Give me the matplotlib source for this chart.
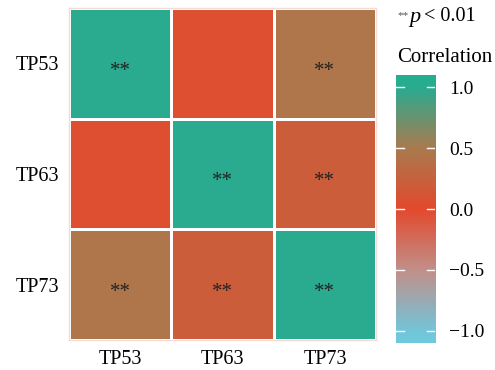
import numpy as np
import matplotlib
matplotlib.use("Agg")
import matplotlib.pyplot as plt
from matplotlib.colors import LinearSegmentedColormap, Normalize

plt.rcParams['font.family'] = ['Liberation Serif', 'DejaVu Serif']

# data
genes = ['TP53', 'TP63', 'TP73']
corr = np.array([
    [1.00, 0.05, 0.45],
    [0.05, 1.00, 0.20],
    [0.45, 0.20, 1.00],
])
stars = [
    ['**', '', '**'],
    ['', '**', '**'],
    ['**', '**', '**'],
]
cbar_ticks = [-1.0, -0.5, 0.0, 0.5, 1.0]

# colour scale (on -1.1 .. 1.1)
cmap = LinearSegmentedColormap.from_list('corr', [
    (0.000, '#6FCADE'),
    (0.045, '#74C4D8'),
    (0.270, '#C1908A'),
    (0.500, '#E3492D'),
    (0.730, '#A97B4F'),
    (0.955, '#2AAB90'),
    (1.000, '#24AF91'),
])
norm = Normalize(vmin=-1.1, vmax=1.1)

fig = plt.figure(figsize=(4.95, 3.70), dpi=100)
ax = fig.add_axes([0.139, 0.081, 0.621, 0.897])

n = len(genes)
ax.pcolormesh(np.arange(n + 1), np.arange(n + 1), corr, cmap=cmap, norm=norm,
              edgecolors='white', linewidth=1.0)
ax.set_xlim(0, n)
ax.set_ylim(n, 0)
for i in range(n):
    for j in range(n):
        if stars[i][j]:
            ax.text(j + 0.5, i + 0.57, stars[i][j], ha='center', va='center',
                    fontsize=15, color='#222222')

ax.set_xticks(np.arange(n) + 0.5)
ax.set_yticks(np.arange(n) + 0.5)
ax.set_xticklabels(genes, fontsize=14.5)
ax.set_yticklabels(genes, fontsize=14.5)
ax.tick_params(length=0, pad=7)
for s in ax.spines.values():
    s.set_color('#F3DCD6')
    s.set_linewidth(1)

# colorbar
cax = fig.add_axes([0.800, 0.073, 0.079, 0.724])
grad = np.linspace(-1.1, 1.1, 400).reshape(-1, 1)
cax.imshow(grad, aspect='auto', cmap=cmap, norm=norm, origin='lower',
           extent=[0, 1, -1.1, 1.1])
cax.set_xlim(0, 1)
cax.set_ylim(-1.1, 1.1)
cax.set_xticks([])
cax.yaxis.tick_right()
cax.set_yticks(cbar_ticks)
cax.set_yticklabels([f'{t:.1f}'.replace('-', '\u2212') for t in cbar_ticks], fontsize=14)
cax.tick_params(axis='y', length=0, pad=10)
for t in cbar_ticks:
    cax.plot([0, 0.2], [t, t], color='white', lw=1)
    cax.plot([0.8, 1], [t, t], color='white', lw=1)
for s in cax.spines.values():
    s.set_visible(False)

fig.text(0.802, 0.845, 'Correlation', fontsize=15, ha='left', va='center')
fig.text(0.802, 0.957, '**', fontsize=8, ha='left', va='center', color='#555555')
fig.text(0.826, 0.952, 'p', fontsize=16, style='italic', ha='left', va='center')
fig.text(0.856, 0.955, '< 0.01', fontsize=14.5, ha='left', va='center')

fig.savefig('out.png', dpi=100)
